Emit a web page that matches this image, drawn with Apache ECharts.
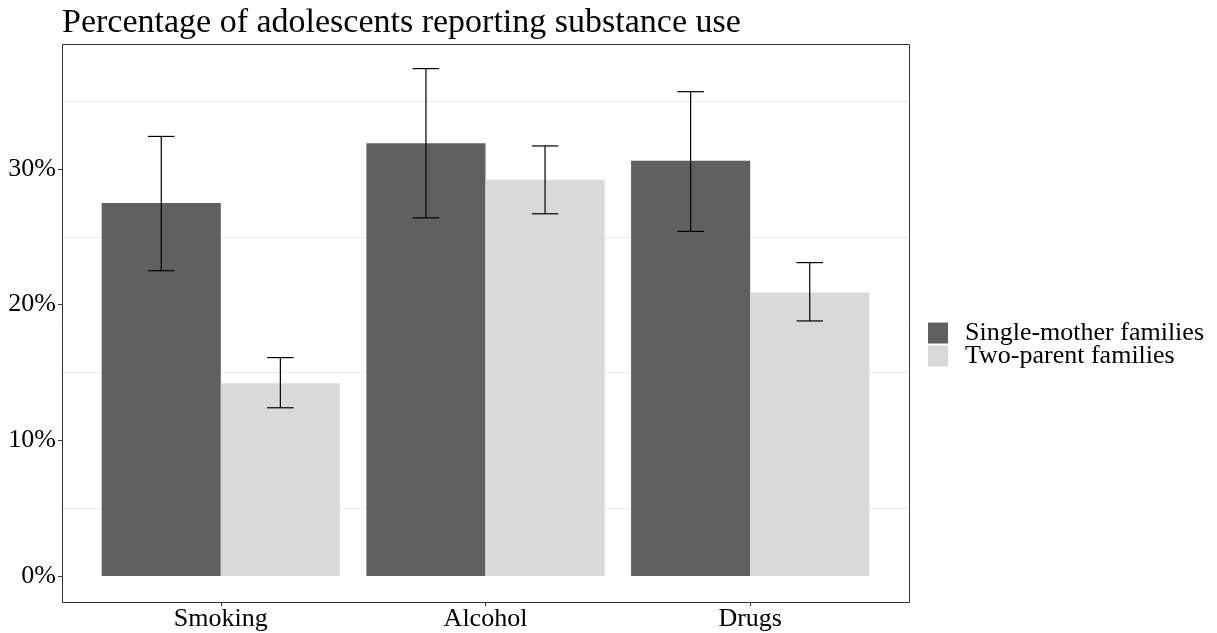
<!DOCTYPE html>
<html><head><meta charset="utf-8">
<script src="https://cdn.jsdelivr.net/npm/echarts@6/dist/echarts.min.js"></script>
<style>html,body{margin:0;padding:0;background:#fff}#c{width:1217px;height:633px}</style>
</head><body><div id="c"></div>
<script>
const categories = ['Smoking', 'Alcohol', 'Drugs'];
const seriesNames = ['Single-mother families', 'Two-parent families'];
const singleVals = [27.5, 31.9, 30.6];
const singleLow = [22.5, 26.4, 25.4];
const singleHigh = [32.4, 37.4, 35.7];
const twoVals = [14.2, 29.2, 20.9];
const twoLow = [12.4, 26.7, 18.8];
const twoHigh = [16.1, 31.7, 23.1];
const yTicks = [0, 10, 20, 30];

const FONT = '"Liberation Serif", "DejaVu Serif", serif';
const PL = 62, PR = 909, PT = 44, PB = 602;
const Y0 = 576, PXPER = (576 - 169) / 30;
const gridTop = Y0 - 40 * PXPER;
const band = (PR - PL) / 3.2;
const inset = band * 0.1;

const errData = [];
for (let i = 0; i < categories.length; i++) {
  errData.push([i, singleLow[i], singleHigh[i], -1]);
  errData.push([i, twoLow[i], twoHigh[i], 1]);
}

const chart = echarts.init(document.getElementById('c'));
chart.setOption({
  animation: false,
  textStyle: { fontFamily: FONT },
  title: {
    text: 'Percentage of adolescents reporting substance use',
    left: 57, top: 1,
    textStyle: { fontFamily: FONT, fontSize: 34, fontWeight: 'normal', color: '#000' }
  },
  legend: {
    data: seriesNames,
    orient: 'vertical',
    left: 923, top: 315,
    icon: 'rect',
    itemWidth: 20, itemHeight: 21, itemGap: -3,
    textStyle: { fontFamily: FONT, fontSize: 26, color: '#000', lineHeight: 21, padding: [0, 0, 0, 12] }
  },
  grid: [
    { left: PL, right: 1217 - PR, top: gridTop, bottom: 633 - Y0, containLabel: false },
    { left: PL + inset, right: 1217 - PR + inset, top: PT, bottom: 633 - PB, containLabel: false }
  ],
  xAxis: [
    { gridIndex: 0, type: 'value', min: 0, max: 1, show: false },
    {
      gridIndex: 1, type: 'category', data: categories, position: 'bottom',
      axisLine: { show: false, onZero: false },
      axisTick: { show: true, alignWithLabel: true, length: 4, lineStyle: { color: '#333' } },
      axisLabel: { fontFamily: FONT, fontSize: 26, color: '#000', margin: 4 },
      splitLine: { show: false }
    }
  ],
  yAxis: [
    {
      gridIndex: 0, type: 'value', min: 0, max: 40, interval: 10,
      axisLine: { show: false },
      axisTick: { show: true, length: 4, lineStyle: { color: '#333' } },
      axisLabel: {
        fontFamily: FONT, fontSize: 26, color: '#000', margin: 6, showMaxLabel: false,
        formatter: v => (yTicks.indexOf(v) >= 0 ? v + '%' : '')
      },
      splitLine: { show: false },
      minorTick: { show: false, splitNumber: 2 },
      minorSplitLine: { show: true, lineStyle: { color: '#ebebeb', width: 1 } }
    },
    {
      gridIndex: 1, type: 'value',
      min: -(PB - Y0) / PXPER, max: (Y0 - PT) / PXPER,
      show: false, splitLine: { show: false }
    }
  ],
  graphic: [{
    type: 'rect', z: 100, silent: true,
    shape: { x: PL + 0.5, y: PT + 0.5, width: PR - PL, height: PB - PT },
    style: { fill: 'none', stroke: '#333', lineWidth: 1 }
  }],
  series: [
    {
      name: seriesNames[0], type: 'bar', xAxisIndex: 1, yAxisIndex: 1,
      data: singleVals, barGap: '0%', barCategoryGap: '10%',
      itemStyle: { color: '#606060' }
    },
    {
      name: seriesNames[1], type: 'bar', xAxisIndex: 1, yAxisIndex: 1,
      data: twoVals, barGap: '0%', barCategoryGap: '10%',
      itemStyle: { color: '#d9d9d9' }
    },
    {
      type: 'custom', xAxisIndex: 1, yAxisIndex: 1, z: 10,
      data: errData,
      renderItem: function (params, api) {
        const bw = api.size([1, 0])[0];
        const side = api.value(3);
        const lo = api.coord([api.value(0), api.value(1)]);
        const hi = api.coord([api.value(0), api.value(2)]);
        const cx = lo[0] + side * bw * 0.9 / 4;
        const hw = bw * 0.05;
        const st = { stroke: '#000', lineWidth: 1.2, fill: 'none' };
        return {
          type: 'group',
          children: [
            { type: 'line', shape: { x1: cx, y1: lo[1], x2: cx, y2: hi[1] }, style: st },
            { type: 'line', shape: { x1: cx - hw, y1: lo[1], x2: cx + hw, y2: lo[1] }, style: st },
            { type: 'line', shape: { x1: cx - hw, y1: hi[1], x2: cx + hw, y2: hi[1] }, style: st }
          ]
        };
      }
    }
  ]
});
</script>
</body></html>
